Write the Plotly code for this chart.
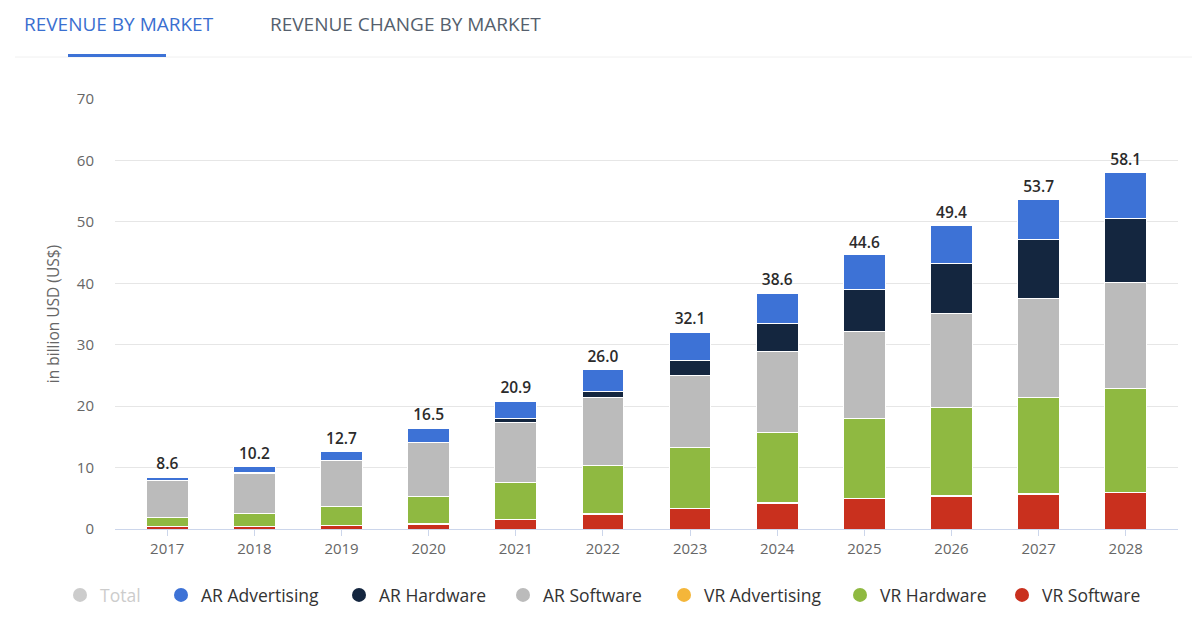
import plotly.graph_objects as go

years = ["2017", "2018", "2019", "2020", "2021", "2022", "2023", "2024", "2025", "2026", "2027", "2028"]
totals = [8.6, 10.2, 12.7, 16.5, 20.9, 26.0, 32.1, 38.6, 44.6, 49.4, 53.7, 58.1]
vr_software = [0.4, 0.35, 0.6, 0.8, 1.5, 2.4, 3.3, 4.2, 4.9, 5.3, 5.6, 5.9]
vr_advertising = [0.02, 0.02, 0.03, 0.04, 0.05, 0.06, 0.07, 0.08, 0.1, 0.1, 0.1, 0.1]
vr_hardware = [1.5, 2.1, 3.1, 4.45, 6.1, 7.8, 9.85, 11.4, 13.0, 14.4, 15.7, 16.8]
ar_software = [6.0, 6.6, 7.4, 8.75, 9.7, 11.1, 11.8, 13.2, 14.2, 15.35, 16.2, 17.3]
ar_hardware = [0.02, 0.05, 0.05, 0.1, 0.7, 1.0, 2.45, 4.5, 6.8, 8.05, 9.45, 10.5]
ar_advertising = [0.45, 1.05, 1.5, 2.2, 2.7, 3.6, 4.5, 5.0, 5.7, 6.25, 6.65, 7.5]

y_ticks = [0, 10, 20, 30, 40, 50, 60, 70]

series = [
    ("VR Software", vr_software, "#c9301e"),
    ("VR Advertising", vr_advertising, "#f4b63a"),
    ("VR Hardware", vr_hardware, "#8fb941"),
    ("AR Software", ar_software, "#bbbbbb"),
    ("AR Hardware", ar_hardware, "#14263f"),
    ("AR Advertising", ar_advertising, "#3d72d6"),
]

FONT = "Open Sans"
OFF = 8  # page body margin
W, H = 1192, 613
L, R, T, B = 107, 22, 91, 92
PW = W - L - R
PH = H - T - B


def px_x(sx):
    return (sx - OFF - L) / PW


def px_y(sy):
    return (H - B - (sy - OFF)) / PH


def cy(sy):
    return (H - (sy - OFF)) / H


fig = go.Figure()

for name, vals, col in series:
    fig.add_trace(go.Bar(
        x=years, y=vals, name=name, marker=dict(color=col, line=dict(color="white", width=1)),
        width=0.48, showlegend=False, hoverinfo="x+y+name",
    ))

# total labels above each stack (transparent marker pushes the text up a little)
fig.add_trace(go.Scatter(
    x=years, y=totals, mode="markers+text", text=[f"{v:.1f}" for v in totals],
    textposition="top center", showlegend=False, hoverinfo="skip",
    marker=dict(size=4, color="rgba(0,0,0,0)"),
    textfont=dict(family=FONT, size=15.5, color="#2b2b2b", weight=600),
))

# legend entries (circle markers), one legend each for exact placement
legend_items = [
    ("Total", "#9a9a9a", 82, "legendonly", "#9a9a9a"),
    ("AR Advertising", "#3d72d6", 183, True, "#333333"),
    ("AR Hardware", "#14263f", 361, True, "#333333"),
    ("AR Software", "#bbbbbb", 525, True, "#333333"),
    ("VR Advertising", "#f4b63a", 686, True, "#333333"),
    ("VR Hardware", "#8fb941", 862, True, "#333333"),
    ("VR Software", "#c9301e", 1024, True, "#333333"),
]

legend_layouts = {}
for i, (name, col, cx, vis, fcol) in enumerate(legend_items):
    lname = "legend" if i == 0 else f"legend{i + 1}"
    fig.add_trace(go.Scatter(
        x=[None], y=[None], mode="markers", name=name, visible=vis,
        marker=dict(color=col, size=14, symbol="circle"),
        legend=lname, showlegend=True,
    ))
    legend_layouts[lname] = dict(
        x=px_x(cx - 22), y=cy(595), yref="container", xanchor="left", yanchor="middle",
        orientation="h", bgcolor="rgba(0,0,0,0)", borderwidth=0,
        font=dict(family=FONT, size=17.5, color=fcol), itemclick=False, itemdoubleclick=False,
    )

fig.update_layout(
    width=W, height=H,
    margin=dict(l=L, r=R, t=T, b=B, autoexpand=False),
    paper_bgcolor="white", plot_bgcolor="white",
    barmode="stack", bargap=0.52,
    font=dict(family=FONT, color="#666666"),
    xaxis=dict(
        type="category", range=[-0.6, 11.6], showgrid=False,
        showline=True, linecolor="#ccd6eb", linewidth=1,
        ticks="outside", ticklen=6, tickcolor="#ccd6eb", tickwidth=1,
        ticklabelstandoff=0,
        tickfont=dict(family=FONT, size=15, color="#666666"),
        fixedrange=True,
    ),
    yaxis=dict(
        range=[0, 70], tickvals=y_ticks, showgrid=True, gridcolor="#e6e6e6", gridwidth=1,
        zeroline=False, showline=False, ticks="", ticklabelstandoff=20,
        tickfont=dict(family=FONT, size=15, color="#666666"),
        title=dict(text="in billion USD (US$)", font=dict(family=FONT, size=15.5, color="#666666"), standoff=13),
        fixedrange=True,
    ),
    **legend_layouts,
)

# tabs
fig.add_annotation(text="REVENUE BY MARKET", xref="paper", yref="paper", x=px_x(22), y=px_y(24),
                   xanchor="left", yanchor="middle", showarrow=False,
                   font=dict(family=FONT, size=19, color="#3a6fd0"))
fig.add_annotation(text="REVENUE CHANGE BY MARKET", xref="paper", yref="paper", x=px_x(268), y=px_y(24),
                   xanchor="left", yanchor="middle", showarrow=False,
                   font=dict(family=FONT, size=19, color="#555f6d"))
fig.add_shape(type="line", xref="paper", yref="paper", x0=px_x(15), x1=px_x(1200), y0=px_y(57), y1=px_y(57),
              line=dict(color="#f0f0f0", width=1), layer="below")
fig.add_shape(type="line", xref="paper", yref="paper", x0=px_x(68), x1=px_x(166), y0=px_y(55.5), y1=px_y(55.5),
              line=dict(color="#3d72d6", width=3))

fig.write_html("out.html")
